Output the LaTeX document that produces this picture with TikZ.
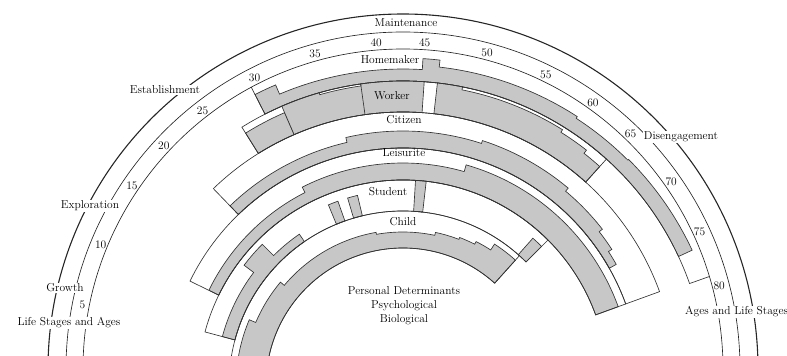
\documentclass[tikz,border=0pt]{standalone}
\newcommand{\rainbowfont}{\fontsize{11.5}{14}\selectfont}
\tikzset{
  ringline/.style={draw=black!80,line width=0.65pt},
  roleshade/.style={ringline,fill=black!22},
  stagearc/.style={draw=black!85,line width=0.65pt},
  stage/.style={fill=white,inner sep=1pt,font=\rainbowfont},
  agenum/.style={inner sep=0pt,font=\rainbowfont},
  role/.style={inner sep=0pt,font=\rainbowfont},
}
\newcommand{\rolering}[4]{\draw[ringline] (#1:#3) arc[start angle=#1,end angle=#2,radius=#3] -- (#2:#4) arc[start angle=#2,end angle=#1,radius=#4] -- cycle;}
\newcommand{\roleband}[4]{\filldraw[roleshade] (#1:#3) \foreach \a/\b/\h [evaluate=\h as \rr using #3+\h] in {#4} { -- (\a:\rr) arc[start angle=\a,end angle=\b,radius=\rr] } -- (#2:#3) arc[start angle=#2,end angle=#1,radius=#3] -- cycle;}
\begin{document}
\begin{tikzpicture}[x=1pt,y=1pt]
  \useasboundingbox (0,0) rectangle (787,356);

  \begin{scope}[shift={(403,-29)}]
    % homemaker
    \roleband{117}{25}{304}{117/113/22, 113/86.5/12, 86.5/83.5/23, 83.5/57/16, 57/45/14, 45/25/15}
    \draw[ringline] (117:334.2) -- (117:304) arc[start angle=117,end angle=19.5,radius=304] -- (19.5:325);
    % worker
    \roleband{122}{113.5}{273}{122/113.5/24}
    \roleband{113.5}{86}{273}{113.5/106/31, 106/98/29, 98/86/31}
    \roleband{83.5}{48}{273}{83.5/78.7/31, 78.7/58/28, 58/52/25, 52/48/21}
    \draw[ringline] (98:273) -- (98:304);
    \rolering{122}{48}{273}{304}
    % citizen
    \roleband{134}{29.5}{237}{134/103/12, 103/72/17, 72/50/20, 50/38/16, 38/33/12, 33/29.5/8}
    \rolering{134}{20}{237}{273}
    % leisurite
    \roleband{154}{20}{205}{154/117/11, 117/74/17, 74/20/24}
    \rolering{154}{20}{205}{237}
    % student
    \roleband{165}{124.5}{174}{165/143/13, 143/135/25, 135/124.5/9}
    \roleband{112.5}{109.5}{174}{112.5/109.5/21}
    \roleband{106.5}{103.5}{174}{106.5/103.5/21}
    \roleband{86.5}{83.5}{174}{86.5/83.5/31}
    \roleband{48.5}{45}{174}{48.5/45/22}
    \rolering{165}{45}{174}{205}
    % child
    \roleband{190}{48}{137}{190/157/30, 157/140/23, 140/100/18, 100/78/16, 78/69/19, 69/63/21, 63/57/24, 57/48/31}
    \rolering{190}{48}{137}{174}
  \end{scope}

  \begin{scope}[shift={(403,-13)}]
    \draw[stagearc,line width=1.1pt] (180:355) arc[start angle=180,end angle=0,radius=355];
    \draw[stagearc] (180:337) arc[start angle=180,end angle=0,radius=337];
    \draw[stagearc] (180:320) arc[start angle=180,end angle=0,radius=320];
    \foreach \v/\t in {5/168.6,10/157.6,15/146,20/137,25/127.8,30/117,35/105.6,40/94.7,45/86.2,50/75.1,55/64.1,60/54.5,65/45.9,70/34.9,75/24.9,80/14.8}
      \node[agenum] (age\v) at (\t:327) {\v};
  \end{scope}

  \node[role] (maintenance) at (406,333) {Maintenance};
  \node[stage] (establishment) at (165,266) {Establishment};
  \node[stage] (exploration) at (90,150) {Exploration};
  \node[stage] (growth) at (65,68) {Growth};
  \node[stage] (stagesleft) at (69,33) {Life Stages and Ages};
  \node[stage] (disengagement) at (681,219) {Disengagement};
  \node[stage,anchor=west] (stagesright) at (684,44) {Ages and Life Stages};

  \node[role] (homemaker) at (390,296) {Homemaker};
  \node[role] (worker) at (392,260) {Worker};
  \node[role] (citizen) at (404,236) {Citizen};
  \node[role] (leisurite) at (404,203) {Leisurite};
  \node[role] (student) at (388,164) {Student};
  \node[role] (child) at (403,134) {Child};
  \node[role,align=center] (determinants) at (404,50) {Personal Determinants\\Psychological\\Biological};
\end{tikzpicture}
\end{document}
